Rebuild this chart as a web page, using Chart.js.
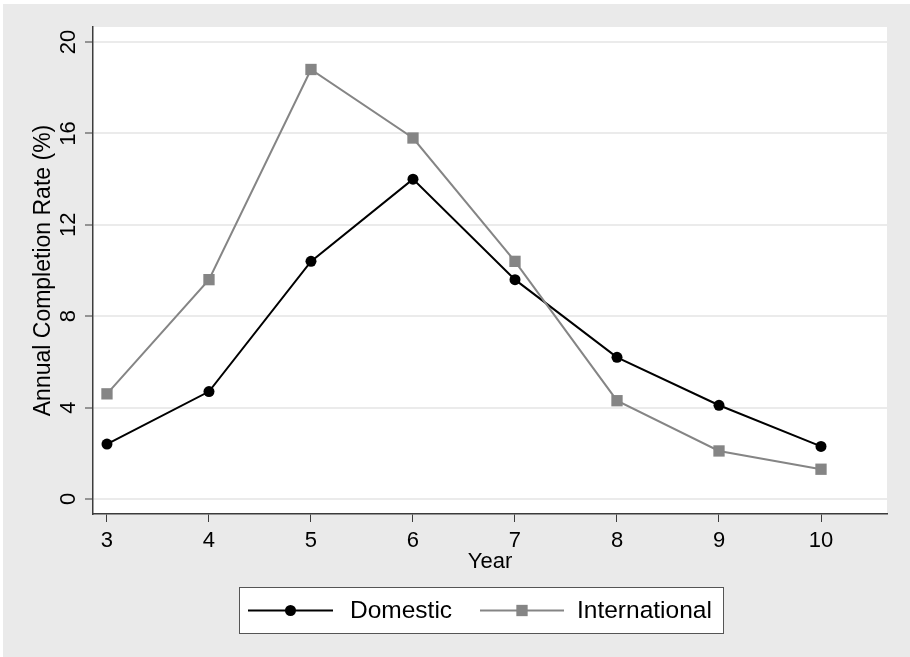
<!DOCTYPE html>
<html>
<head>
<meta charset="utf-8">
<script src="https://cdn.jsdelivr.net/npm/chart.js@4.4.1/dist/chart.umd.min.js"></script>
<style>
  html, body { margin: 0; padding: 0; background: #fff; }
  canvas { display: block; }
</style>
</head>
<body>
<canvas id="chart" width="910" height="657"></canvas>
<script>
// values
const years = [3, 4, 5, 6, 7, 8, 9, 10]
const domestic = [2.4, 4.7, 10.4, 14.0, 9.6, 6.2, 4.1, 2.3]
const international = [4.6, 9.6, 18.8, 15.8, 10.4, 4.3, 2.1, 1.3]
const yTicks = [0, 4, 8, 12, 16, 20]
const xTicks = [3, 4, 5, 6, 7, 8, 9, 10]

const FONT = "'Liberation Sans', Arial, Helvetica, sans-serif"
const BG = '#eaeaea'
const AXIS = '#3c3c3c'

Chart.defaults.font.family = FONT
Chart.defaults.color = '#000'

const toPoints = ys => ys.map((y, i) => ({ x: years[i], y }))

// gray outer region + white plot region
const background = {
  id: 'background',
  beforeDraw(chart) {
    const { ctx, width, height, chartArea: a } = chart
    ctx.save()
    ctx.fillStyle = '#fff'
    ctx.fillRect(0, 0, width, height)
    ctx.fillStyle = BG
    ctx.fillRect(3, 4, width - 3, height - 4)
    ctx.fillStyle = '#fff'
    ctx.fillRect(a.left, a.top, a.right - a.left, a.bottom - a.top)
    ctx.restore()
  }
}

// y tick labels are rotated like the axis title
const rotatedYLabels = {
  id: 'rotatedYLabels',
  afterDraw(chart) {
    const { ctx } = chart
    const scale = chart.scales.y
    ctx.save()
    ctx.font = `22px ${FONT}`
    ctx.fillStyle = '#000'
    ctx.textAlign = 'center'
    ctx.textBaseline = 'middle'
    scale.ticks.forEach(t => {
      const y = scale.getPixelForValue(t.value)
      ctx.save()
      ctx.translate(69, y)
      ctx.rotate(-Math.PI / 2)
      ctx.fillText(String(t.value), 0, 0)
      ctx.restore()
    })
    ctx.restore()
  }
}

// boxed legend at the bottom, line-with-marker keys
const boxLegend = {
  id: 'boxLegend',
  afterDraw(chart) {
    const { ctx } = chart
    const box = { x: 239.5, y: 587.5, w: 484, h: 46 }
    const cy = box.y + box.h / 2
    ctx.save()
    ctx.fillStyle = '#fff'
    ctx.fillRect(box.x, box.y, box.w, box.h)
    ctx.strokeStyle = '#555'
    ctx.lineWidth = 1
    ctx.strokeRect(box.x, box.y, box.w, box.h)

    const keys = [
      { ds: chart.data.datasets[0], x0: 248, x1: 333, tx: 350 },
      { ds: chart.data.datasets[1], x0: 480, x1: 564, tx: 577 }
    ]
    keys.forEach(({ ds, x0, x1, tx }) => {
      ctx.strokeStyle = ds.borderColor
      ctx.lineWidth = ds.borderWidth
      ctx.beginPath()
      ctx.moveTo(x0, cy)
      ctx.lineTo(x1, cy)
      ctx.stroke()
      const mx = (x0 + x1) / 2
      ctx.fillStyle = ds.pointBackgroundColor
      if (ds.pointStyle === 'rect') {
        const s = ds.pointRadius * Math.SQRT1_2
        ctx.fillRect(mx - s, cy - s, 2 * s, 2 * s)
      } else {
        ctx.beginPath()
        ctx.arc(mx, cy, ds.pointRadius, 0, Math.PI * 2)
        ctx.fill()
      }
      ctx.fillStyle = '#000'
      ctx.font = `24.5px ${FONT}`
      ctx.textAlign = 'left'
      ctx.textBaseline = 'middle'
      ctx.fillText(ds.label, tx, cy + 1)
    })
    ctx.restore()
  }
}

new Chart(document.getElementById('chart'), {
  type: 'line',
  data: {
    datasets: [
      {
        label: 'Domestic',
        data: toPoints(domestic),
        borderColor: '#000',
        backgroundColor: '#000',
        pointBackgroundColor: '#000',
        pointBorderWidth: 0,
        borderWidth: 2,
        pointStyle: 'circle',
        pointRadius: 5.5,
        order: 1
      },
      {
        label: 'International',
        data: toPoints(international),
        borderColor: '#858585',
        backgroundColor: '#858585',
        pointBackgroundColor: '#858585',
        pointBorderWidth: 0,
        borderWidth: 2,
        pointStyle: 'rect',
        pointRadius: 8,
        order: 0
      }
    ]
  },
  options: {
    responsive: false,
    animation: false,
    layout: { padding: { left: 0, top: 27, right: 23, bottom: 77 } },
    plugins: {
      legend: { display: false },
      tooltip: { enabled: false }
    },
    scales: {
      x: {
        type: 'linear',
        min: 2.863,
        max: 10.647,
        afterBuildTicks: s => { s.ticks = xTicks.map(v => ({ value: v })) },
        afterFit: s => { s.height = 66 },
        ticks: { font: { size: 22 }, padding: 6, color: '#000' },
        grid: { drawOnChartArea: false, tickLength: 8, tickColor: AXIS, tickWidth: 1 },
        border: { color: AXIS, width: 1.5 },
        title: { display: true, text: 'Year', font: { size: 22 }, padding: { top: 0, bottom: 5 }, color: '#000' }
      },
      y: {
        type: 'linear',
        min: -0.66,
        max: 20.66,
        afterBuildTicks: s => { s.ticks = yTicks.map(v => ({ value: v })) },
        afterFit: s => { s.width = 93 },
        ticks: { color: 'transparent', font: { size: 22 } },
        grid: { color: '#ebebeb', lineWidth: 2, tickLength: 8, tickColor: AXIS, tickWidth: 1 },
        border: { color: AXIS, width: 1.5 },
        title: { display: true, text: 'Annual Completion Rate (%)', font: { size: 23 }, padding: { top: 30, bottom: 0 }, color: '#000' }
      }
    }
  },
  plugins: [background, rotatedYLabels, boxLegend]
})
</script>
</body>
</html>
